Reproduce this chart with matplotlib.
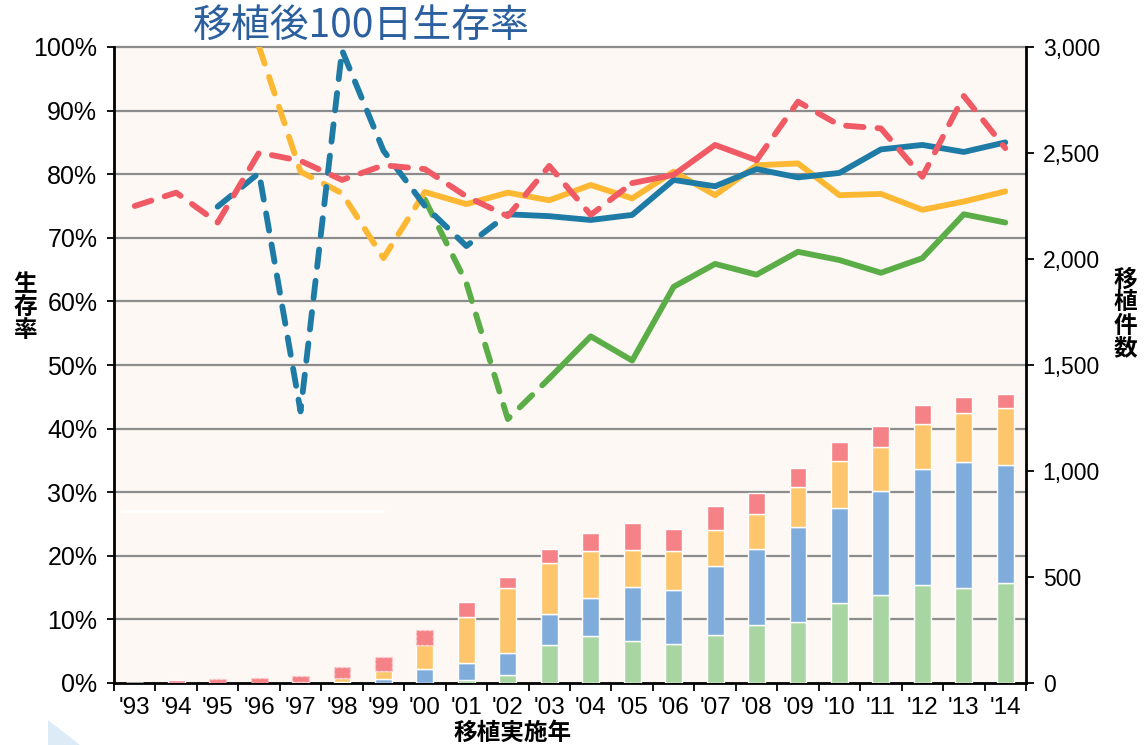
import numpy as np
import matplotlib
matplotlib.use("Agg")
import matplotlib.pyplot as plt
from matplotlib.patches import Polygon

# ---------------- data ----------------
years = ["'93", "'94", "'95", "'96", "'97", "'98", "'99", "'00", "'01", "'02", "'03",
         "'04", "'05", "'06", "'07", "'08", "'09", "'10", "'11", "'12", "'13", "'14"]

nan = np.nan
surv_red = [75.0, 77.1, 72.4, 83.4, 82.1, 79.1, 81.4, 80.8, 76.5, 73.4, 81.3,
            73.6, 78.6, 79.9, 84.6, 82.2, 91.4, 87.7, 87.2, 79.6, 92.3, 84.1]
surv_blue = [nan, nan, 74.9, 80.2, 42.7, 99.5, 83.7, 75.0, 68.7, 73.7, 73.4,
             72.8, 73.6, 79.1, 78.1, 80.8, 79.5, 80.2, 83.9, 84.6, 83.5, 85.0]
surv_orange = [nan, nan, nan, 100.0, 80.4, 77.0, 66.8, 77.2, 75.3, 77.1, 75.9,
               78.3, 76.2, 80.4, 76.7, 81.4, 81.7, 76.7, 76.9, 74.4, 75.7, 77.3]
surv_green = [nan, nan, nan, nan, nan, nan, nan, 76.0, 62.9, 41.5, 47.9,
              54.5, 50.7, 62.3, 65.9, 64.2, 67.8, 66.5, 64.5, 66.8, 73.7, 72.4]

cnt_green = [0, 0, 0, 0, 0, 0, 0, 0, 13, 40, 179,
             223, 200, 182, 226, 274, 286, 379, 415, 462, 448, 473]
cnt_blue = [0, 0, 0, 0, 0, 3, 20, 64, 83, 101, 145,
            180, 251, 258, 324, 360, 450, 445, 491, 547, 593, 555]
cnt_orange = [0, 0, 0, 0, 5, 22, 38, 115, 217, 306, 242,
              220, 176, 183, 170, 163, 187, 223, 207, 213, 234, 269]
cnt_red = [0, 12, 20, 22, 28, 49, 63, 69, 69, 51, 66,
           86, 126, 105, 115, 101, 91, 88, 98, 88, 76, 68]

pct_ticks = list(range(0, 101, 10))
pct_labels = [f"{v}%" for v in pct_ticks]
cnt_ticks = list(range(0, 3001, 500))
cnt_labels = [f"{v:,}" for v in cnt_ticks]

# ---------------- styles ----------------
C_BLUE = "#1E7BA6"
C_ORANGE = "#FDB833"
C_RED = "#EF5A65"
C_GREEN = "#5BAE47"
B_GREEN = "#A8D5A2"
B_BLUE = "#80ACDC"
B_ORANGE = "#FEC66C"
B_RED = "#F48287"
BG = "#FDF8F4"
NUM_FONT = ["Liberation Sans", "DejaVu Sans"]
CJK_FONT = ["Noto Sans CJK JP", "DejaVu Sans"]

W, H = 1145, 745
fig = plt.figure(figsize=(W / 100, H / 100), dpi=100)
fig.patch.set_facecolor("white")

L, R, B, T = 114, 1026, 683, 47
rect = [L / W, 1 - B / H, (R - L) / W, (B - T) / H]

ax = fig.add_axes(rect)
ax.set_facecolor(BG)
ax2 = ax.twinx()   # bars, right axis
ax3 = ax.twinx()   # lines on top

x = np.arange(len(years))
n = len(years)

# gridlines on ax
ax.set_ylim(0, 100)
ax.set_xlim(-0.5, n - 0.5)
for v in pct_ticks[1:]:
    ax.axhline(v, color="#8C8C8C", lw=1.6, zorder=1, clip_on=False if v == 100 else True)
ax.set_yticks(pct_ticks)
ax.set_yticklabels(pct_labels, fontfamily=NUM_FONT, fontsize=18)
ax.tick_params(axis="y", direction="out", length=5, width=1.3, pad=7, colors="black")

ax.set_xticks(x)
ax.set_xticklabels(years, fontfamily=NUM_FONT, fontsize=17.5)
ax.set_xticks(np.arange(-0.5, n, 1.0), minor=True)
ax.tick_params(axis="x", which="major", length=0, pad=10)
ax.tick_params(axis="x", which="minor", direction="out", length=6, width=1.3, color="black")

for s in ["top", "right"]:
    ax.spines[s].set_visible(False)
ax.spines["left"].set_linewidth(2.0)
ax.spines["bottom"].set_linewidth(2.0)

# white artifact line
ax.plot([0.007, 0.295], [0.27, 0.27], transform=ax.transAxes, color="white", lw=2, zorder=2)

# bars
ax2.set_ylim(0, 3000)
bw = 0.41
bottom = np.zeros(n)
dotted = set(range(2, 8))
for vals, col, name in [(cnt_green, B_GREEN, "g"), (cnt_blue, B_BLUE, "b"),
                        (cnt_orange, B_ORANGE, "o"), (cnt_red, B_RED, "r")]:
    vals = np.array(vals, dtype=float)
    bars = ax2.bar(x, vals, bw, bottom=bottom, color=col, edgecolor="white", linewidth=1.0, zorder=2)
    if name == "r":
        for i, p in enumerate(bars):
            if i in dotted:
                p.set_edgecolor("#FBD3D5")
                p.set_linestyle((0, (2.0, 1.5)))
                p.set_linewidth(1.0)
    bottom += vals
ax2.set_yticks(cnt_ticks)
ax2.set_yticklabels(cnt_labels, fontfamily=NUM_FONT, fontsize=16.5)
ax2.tick_params(axis="y", direction="out", length=6, width=1.3, pad=6, colors="black")
for s in ["top", "left", "bottom"]:
    ax2.spines[s].set_visible(False)
ax2.spines["right"].set_linewidth(2.0)

# lines
ax3.set_ylim(0, 100)
ax3.set_yticks([])
for s in ax3.spines.values():
    s.set_visible(False)
LW = 4.2
DASH = (3.0, 2.4)


def seg(vals, a, b):
    v = np.array(vals, dtype=float)
    out = np.full_like(v, np.nan)
    out[a:b + 1] = v[a:b + 1]
    return out


line_specs = [
    (surv_green, C_GREEN, [(7, 10, True), (10, 21, False)]),
    (surv_orange, C_ORANGE, [(3, 7, True), (7, 21, False)]),
    (surv_blue, C_BLUE, [(2, 9, True), (9, 21, False)]),
    (surv_red, C_RED, [(0, 12, True), (12, 15, False), (15, 21, True)]),
]
for vals, col, parts in line_specs:
    for a, b, dashed in parts:
        y = seg(vals, a, b)
        if dashed:
            ax3.plot(x, y, color=col, lw=LW, dashes=DASH, dash_capstyle="round",
                     dash_joinstyle="round", zorder=5)
        else:
            ax3.plot(x, y, color=col, lw=LW, solid_capstyle="round",
                     solid_joinstyle="round", zorder=5)

# texts
fig.text(361 / W, 1 - 27 / H, "移植後100日生存率", color="#2B5F9E", fontsize=28,
         family=CJK_FONT, ha="center", va="center")
fig.text(25 / W, 1 - 307 / H, "生\n存\n率", fontsize=17, fontweight="bold",
         family=CJK_FONT, ha="center", va="center", linespacing=0.95)
fig.text(1125 / W, 1 - 314 / H, "移\n植\n件\n数", fontsize=17, fontweight="bold",
         family=CJK_FONT, ha="center", va="center", linespacing=0.95)
fig.text(513 / W, 1 - 733 / H, "移植実施年", fontsize=17, fontweight="bold",
         family=CJK_FONT, ha="center", va="center")

# decorative triangle at bottom-left
tri = Polygon([(48 / W, 1 - 720 / H), (48 / W, 0), (80 / W, 0)], closed=True,
              transform=fig.transFigure, facecolor="#DDEBF7", edgecolor="none")
fig.patches.append(tri)

fig.savefig("out.png", dpi=100, facecolor="white")
